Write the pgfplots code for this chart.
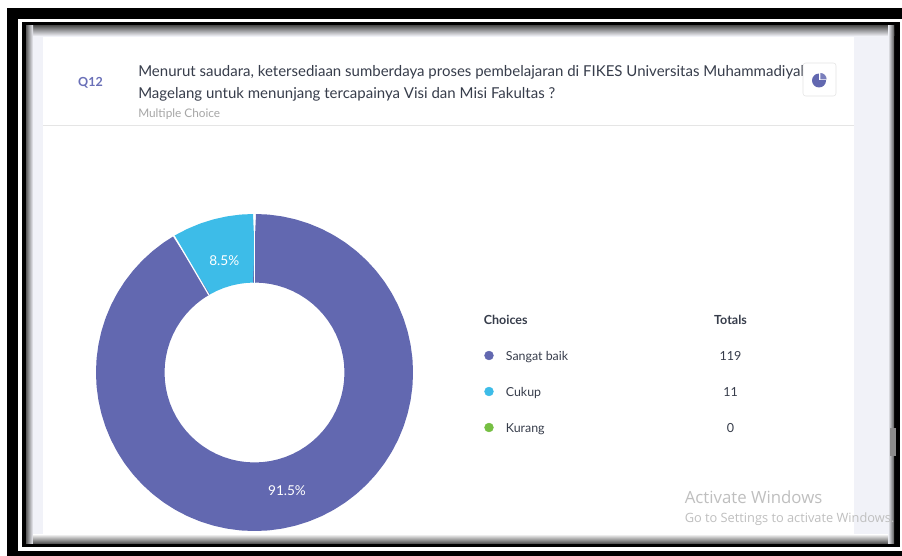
\documentclass[border=0pt]{standalone}
\usepackage{pgfplots}
\pgfplotsset{compat=1.18}
\usepackage{fontspec}
\setmainfont{Lato}
\newfontfamily\winfont{Open Sans}
\definecolor{sangat}{HTML}{6268B0}
\definecolor{cukup}{HTML}{3DBCE8}
\definecolor{kurang}{HTML}{76BF43}
\definecolor{pagebg}{HTML}{F1F2F8}
\definecolor{ink}{HTML}{373D4B}
\definecolor{qcol}{HTML}{6A70B8}
% font size given in reference pixels (1px = 0.75pt)
\newcommand{\pxfont}[1]{\fontsize{\dimexpr#1pt*3/4\relax}{\dimexpr#1pt*3/4\relax}\selectfont}
\begin{document}
\begin{tikzpicture}[x=0.75pt,y=-0.75pt]
\path (0,0) rectangle (902,556);
% screenshot frame
\fill[black] (7,8.5) rectangle (902,556);
\fill[white] (18,19) rectangle (902,551);
\fill[black] (22,22.5) rectangle (900,547);
\fill[pagebg] (26,26) rectangle (894,543);
\fill[white] (43,37) rectangle (854,543);
\shade[top color=black!65,bottom color=pagebg,draw=none] (26,26) rectangle (894,36);
\shade[left color=black!65,right color=pagebg,draw=none] (26,26) rectangle (33,543);
\shade[left color=pagebg,right color=black!65,draw=none] (888,26) rectangle (894,543);
\shade[top color=white,bottom color=black!65,draw=none] (33,534) rectangle (888,543);
\fill[black!45] (890,428) rectangle (896,456);
\draw[black!10] (43,125.5) -- (854,125.5);
% heading
\node[anchor=base,text=qcol,font=\pxfont{12.5}\bfseries] at (90.5,86.5) {Q12};
\node[anchor=base west,inner sep=0pt,text=ink,font=\pxfont{15}] at (138,76.3) {Menurut saudara, ketersediaan sumberdaya proses pembelajaran di FIKES Universitas Muhammadiyah};
\node[anchor=base west,inner sep=0pt,text=ink,font=\pxfont{15}] at (138,98.8) {Magelang untuk menunjang tercapainya Visi dan Misi Fakultas ?};
\node[anchor=base west,inner sep=0pt,text=black!35,font=\pxfont{11.8}] at (138,117.6) {Multiple Choice};
% chart-type button
\filldraw[fill=white,draw=black!10,rounded corners=2pt] (803,63) rectangle (836,96);
\fill[sangat] (819,80.5) circle[radius=7];
\fill[white] (819,80.5) rectangle (827,72);
\fill[sangat!85] (820.3,79.3) -- (820.3,73) arc[start angle=-90,end angle=0,radius=6.3] -- cycle;
% donut, plotted in polar coordinates around its centre
\begin{axis}[
    at={(0,0)},anchor=north west,
    scale only axis,
    width=676.5pt,height=417pt,
    xmin=-254.5,xmax=647.5,
    ymin=-183.5,ymax=372.5,
    hide axis,
    clip=false,
    line cap=butt,
]
\addplot[cukup,line width=51.4pt,line join=round,data cs=polar] coordinates {
(90,124.25) (95,124.25) (100,124.25) (105,124.25) (110,124.25) (115,124.25) (120,124.25) (120.46,124.25)};
\addplot[sangat,line width=51.4pt,line join=round,data cs=polar] coordinates {
(120.46,124.25) (125,124.25) (130,124.25) (135,124.25) (140,124.25) (145,124.25) (150,124.25)
(155,124.25) (160,124.25) (165,124.25) (170,124.25) (175,124.25) (180,124.25) (185,124.25)
(190,124.25) (195,124.25) (200,124.25) (205,124.25) (210,124.25) (215,124.25) (220,124.25)
(225,124.25) (230,124.25) (235,124.25) (240,124.25) (245,124.25) (250,124.25) (255,124.25)
(260,124.25) (265,124.25) (270,124.25) (275,124.25) (280,124.25) (285,124.25) (290,124.25)
(295,124.25) (300,124.25) (305,124.25) (310,124.25) (315,124.25) (320,124.25) (325,124.25)
(330,124.25) (335,124.25) (340,124.25) (345,124.25) (350,124.25) (355,124.25) (360,124.25)
(365,124.25) (370,124.25) (375,124.25) (380,124.25) (385,124.25) (390,124.25) (395,124.25)
(400,124.25) (405,124.25) (410,124.25) (415,124.25) (420,124.25) (425,124.25) (430,124.25)
(435,124.25) (440,124.25) (445,124.25) (450,124.25)};
% slice separators
\addplot[white,line width=0.9pt,data cs=polar] coordinates {(90,89.8) (90,158.6)};
\addplot[white,line width=0.9pt,data cs=polar] coordinates {(120.46,89.8) (120.46,158.6)};
% legend dots
\addplot[only marks,mark=*,mark size=3.3pt,sangat,mark options={draw=none}] coordinates {(234.5,17)};
\addplot[only marks,mark=*,mark size=3.3pt,cukup,mark options={draw=none}] coordinates {(234.5,-19)};
\addplot[only marks,mark=*,mark size=3.3pt,kurang,mark options={draw=none}] coordinates {(234.5,-55)};
\end{axis}
% slice labels
\node[anchor=base,text=white,font=\pxfont{13.6}] at (224.3,265.8) {8.5\%};
\node[anchor=base,text=white,font=\pxfont{13.6}] at (287,495.3) {91.5\%};
% legend table
\node[anchor=base west,inner sep=0pt,text=ink,font=\pxfont{12.5}\bfseries] at (483.6,324.2) {Choices};
\node[anchor=base,inner sep=0pt,text=ink,font=\pxfont{12.5}\bfseries] at (730.5,324.2) {Totals};
\node[anchor=base west,inner sep=0pt,text=ink,font=\pxfont{12.4}] at (505.6,360.2) {Sangat baik};
\node[anchor=base west,inner sep=0pt,text=ink,font=\pxfont{12.4}] at (505.6,396.2) {Cukup};
\node[anchor=base west,inner sep=0pt,text=ink,font=\pxfont{12.4}] at (505.6,432.2) {Kurang};
\node[anchor=base,inner sep=0pt,text=ink,font=\pxfont{12.5}] at (730.5,360.2) {119};
\node[anchor=base,inner sep=0pt,text=ink,font=\pxfont{12.5}] at (730.5,396.2) {11};
\node[anchor=base,inner sep=0pt,text=ink,font=\pxfont{12.5}] at (730.5,432.2) {0};
% watermark
\node[anchor=base west,inner sep=0pt,text=black!25,font=\winfont\pxfont{16.8}] at (684.5,503) {Activate Windows};
\node[anchor=base west,inner sep=0pt,text=black!25,font=\winfont\pxfont{12.8}] at (684.5,522) {Go to Settings to activate Windows.};
\end{tikzpicture}%
\end{document}
